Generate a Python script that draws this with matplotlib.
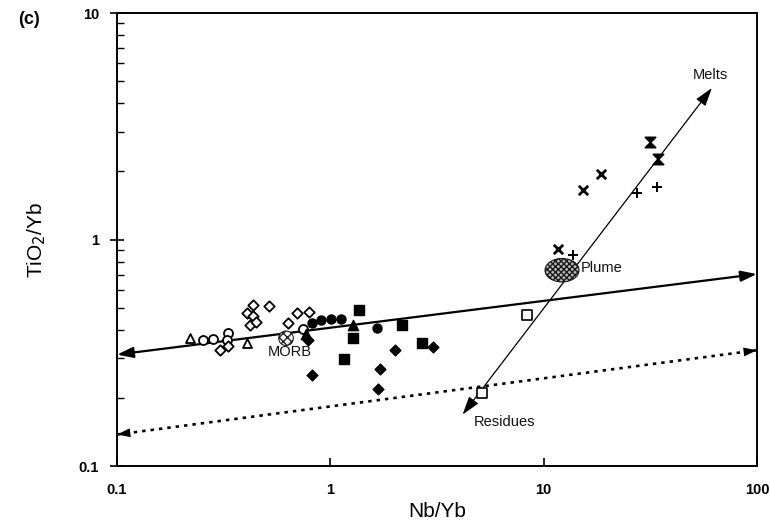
import matplotlib
matplotlib.use("Agg")
import matplotlib.pyplot as plt
from matplotlib.path import Path
from matplotlib.transforms import Affine2D
from matplotlib.ticker import FixedLocator, LogLocator, NullFormatter

plt.rcParams['font.family'] = ['Liberation Sans', 'DejaVu Sans']
plt.rcParams['hatch.linewidth'] = 1.0

# ---- sample groups (Nb/Yb, TiO2/Yb) ----
open_tri_x = [0.220, 0.407]
open_tri_y = [0.367, 0.349]

open_circ_x = [0.253, 0.282, 0.331, 0.328, 0.745]
open_circ_y = [0.360, 0.364, 0.386, 0.360, 0.403]

open_dia_x = [0.304, 0.331, 0.434, 0.516, 0.407, 0.434, 0.420, 0.449, 0.634, 0.698, 0.794]
open_dia_y = [0.325, 0.339, 0.514, 0.509, 0.474, 0.459, 0.420, 0.432, 0.428, 0.474, 0.479]

fill_circ_x = [0.820, 0.904, 1.007, 1.122, 1.656]
fill_circ_y = [0.428, 0.441, 0.446, 0.446, 0.407]

fill_tri_x = [1.277, 0.769]
fill_tri_y = [0.419, 0.383]

fill_sq_x = [1.363, 1.277, 1.159, 2.168, 2.69]
fill_sq_y = [0.489, 0.367, 0.297, 0.419, 0.349]

fill_dia_x = [0.820, 2.01, 1.71, 1.67, 3.03, 0.786]
fill_dia_y = [0.252, 0.325, 0.268, 0.219, 0.335, 0.360]

open_sq_x = [8.36, 5.14]
open_sq_y = [0.464, 0.210]

cross_x = [11.68, 15.3, 18.6]
cross_y = [0.908, 1.65, 1.95]

hourglass_x = [31.5, 34.4]
hourglass_y = [2.70, 2.27]

plus_x = [13.7, 27.4, 34.0]
plus_y = [0.855, 1.60, 1.71]

# ---- reference components ----
morb_x, morb_y = [0.620], [0.367]
plume_x, plume_y = [12.2], [0.733]

# ---- trend lines ----
array_x = [0.1, 100]
array_y = [0.311, 0.705]
lower_x = [0.1, 100]
lower_y = [0.138, 0.325]
melt_x = [4.17, 61.5]
melt_y = [0.169, 4.67]

fig = plt.figure(figsize=(7.7, 5.25), dpi=100)
ax = fig.add_axes([0.152, 0.112, 0.831, 0.863])
ax.set_xscale('log')
ax.set_yscale('log')
ax.set_xlim(0.1, 100)
ax.set_ylim(0.1, 10)

head = '<|-|>,head_length=0.6,head_width=0.2'

# solid mantle array with arrowheads
ax.annotate('', xy=(array_x[1], array_y[1]), xytext=(array_x[0], array_y[0]),
            arrowprops=dict(arrowstyle=head, mutation_scale=16, lw=1.6, color='black',
                            shrinkA=0, shrinkB=0), annotation_clip=False)

# dotted lower line: dotted stem plus solid filled heads
ax.plot(lower_x, lower_y, color='black', lw=1.9, linestyle=(0, (1.3, 1.9)),
        solid_capstyle='butt', clip_on=False)
ax.annotate('', xy=(lower_x[1], lower_y[1]), xytext=(lower_x[0], lower_y[0]),
            arrowprops=dict(arrowstyle=head, mutation_scale=16, lw=0.0,
                            facecolor='black', edgecolor='none',
                            shrinkA=0, shrinkB=0), annotation_clip=False)

# melting vector
ax.annotate('', xy=(melt_x[1], melt_y[1]), xytext=(melt_x[0], melt_y[0]),
            arrowprops=dict(arrowstyle='<|-|>,head_length=0.7,head_width=0.22',
                            mutation_scale=16, lw=0.9, color='black',
                            shrinkA=0, shrinkB=0), annotation_clip=False)

# hatched components
ellipse = Path.unit_circle().transformed(Affine2D().scale(1.45, 1.0))
ax.scatter(plume_x, plume_y, marker=ellipse, s=600, facecolor='#bbbbbb',
           edgecolor='#1a1a1a', hatch='xxxxxx', linewidth=0.8, zorder=3)
ax.scatter(morb_x, morb_y, marker='o', s=110, facecolor='white',
           edgecolor='#222222', hatch='xxxx', linewidth=0.8, zorder=3)

ms = 42
ax.scatter(open_tri_x, open_tri_y, marker='^', s=ms, facecolor='white', edgecolor='black', linewidth=1.3, zorder=4)
ax.scatter(open_circ_x, open_circ_y, marker='o', s=ms, facecolor='white', edgecolor='black', linewidth=1.3, zorder=4)
ax.scatter(open_dia_x, open_dia_y, marker='D', s=28, facecolor='white', edgecolor='black', linewidth=1.3, zorder=4)
ax.scatter(fill_circ_x, fill_circ_y, marker='o', s=ms, color='black', zorder=4)
ax.scatter(fill_tri_x, fill_tri_y, marker='^', s=55, color='black', zorder=4)
ax.scatter(fill_sq_x, fill_sq_y, marker='s', s=60, color='black', zorder=4)
ax.scatter(fill_dia_x, fill_dia_y, marker='D', s=30, color='black', zorder=4)
ax.scatter(open_sq_x, open_sq_y, marker='s', s=48, facecolor='white', edgecolor='black', linewidth=1.2, zorder=4)
ax.scatter(cross_x, cross_y, marker='x', s=45, color='black', linewidth=2.0, zorder=4)
hourglass = Path([(-1, 1), (1, 1), (-1, -1), (1, -1), (-1, 1)],
                 [Path.MOVETO, Path.LINETO, Path.LINETO, Path.LINETO, Path.CLOSEPOLY])
ax.scatter(hourglass_x, hourglass_y, marker=hourglass, s=55, color='black', linewidth=1.2, zorder=4)
ax.scatter(plus_x, plus_y, marker='+', s=50, color='black', linewidth=1.4, zorder=4)

# labels
tkw = dict(fontsize=10.5, color='#111111')
ax.text(60.3, 5.33, 'Melts', ha='center', va='center', **tkw)
ax.text(6.59, 0.156, 'Residues', ha='center', va='center', **tkw)
ax.text(14.9, 0.748, 'Plume', ha='left', va='center', zorder=5, **tkw)
ax.text(0.647, 0.319, 'MORB', ha='center', va='center', **tkw)

# axes styling
for s in ax.spines.values():
    s.set_linewidth(1.4)
ax.xaxis.set_major_locator(FixedLocator([0.1, 1, 10, 100]))
ax.set_xticklabels(['0.1', '1', '10', '100'])
ax.xaxis.set_minor_locator(FixedLocator([]))
ax.yaxis.set_major_locator(FixedLocator([0.1, 1, 10]))
ax.set_yticklabels(['0.1', '1', '10'])
ax.yaxis.set_minor_locator(LogLocator(base=10, subs=range(2, 10)))
ax.yaxis.set_minor_formatter(NullFormatter())
ax.tick_params(axis='x', which='major', direction='in', length=6, width=1.2, pad=12,
               labelsize=10.5, top=False)
ax.tick_params(axis='y', which='major', direction='inout', length=10, width=1.2, pad=8,
               labelsize=10.5, right=False)
ax.tick_params(axis='y', which='minor', direction='in', length=5, width=1.0, right=False)
for lab in ax.get_xticklabels() + ax.get_yticklabels():
    lab.set_fontweight('bold')

ax.set_xlabel('Nb/Yb', fontsize=15, labelpad=4)
ax.set_ylabel('TiO$_2$/Yb', fontsize=15, labelpad=22)
fig.text(0.023, 0.962, '(c)', fontsize=13, fontweight='bold', ha='left', va='center')

fig.savefig('out.png', dpi=100)
